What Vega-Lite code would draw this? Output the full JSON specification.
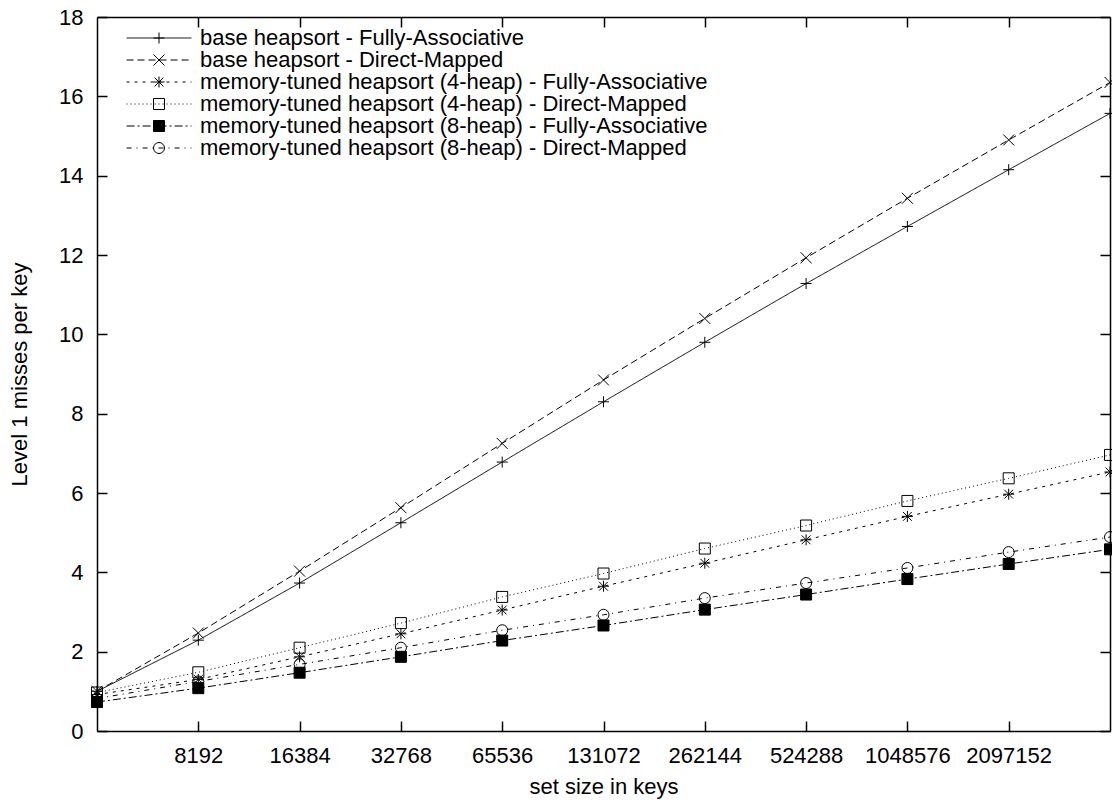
{
  "$schema": "https://vega.github.io/schema/vega-lite/v6.json",
  "width": 1013,
  "height": 714,
  "autosize": "none",
  "padding": {"left": 97, "top": 17, "right": 2, "bottom": 69},
  "background": "white",
  "config": {
    "view": {"stroke": null},
    "font": "Liberation Sans",
    "axis": {"grid": false, "labelFont": "Liberation Sans", "labelFontSize": 22, "labelColor": "black", "titleFont": "Liberation Sans", "titleFontSize": 22, "titleFontWeight": "normal", "titleColor": "black", "domainColor": "black", "domainWidth": 1.5, "tickColor": "black", "tickWidth": 1.5, "tickSize": -10}
  },
  "data": {"values": [
    {"n": 4096, "series": "base heapsort - Fully-Associative", "v": 1.0},
    {"n": 8192, "series": "base heapsort - Fully-Associative", "v": 2.29},
    {"n": 16384, "series": "base heapsort - Fully-Associative", "v": 3.73},
    {"n": 32768, "series": "base heapsort - Fully-Associative", "v": 5.25},
    {"n": 65536, "series": "base heapsort - Fully-Associative", "v": 6.78},
    {"n": 131072, "series": "base heapsort - Fully-Associative", "v": 8.3},
    {"n": 262144, "series": "base heapsort - Fully-Associative", "v": 9.8},
    {"n": 524288, "series": "base heapsort - Fully-Associative", "v": 11.28},
    {"n": 1048576, "series": "base heapsort - Fully-Associative", "v": 12.72},
    {"n": 2097152, "series": "base heapsort - Fully-Associative", "v": 14.15},
    {"n": 4194304, "series": "base heapsort - Fully-Associative", "v": 15.57},
    {"n": 4096, "series": "base heapsort - Direct-Mapped", "v": 1.0},
    {"n": 8192, "series": "base heapsort - Direct-Mapped", "v": 2.47},
    {"n": 16384, "series": "base heapsort - Direct-Mapped", "v": 4.03},
    {"n": 32768, "series": "base heapsort - Direct-Mapped", "v": 5.63},
    {"n": 65536, "series": "base heapsort - Direct-Mapped", "v": 7.25},
    {"n": 131072, "series": "base heapsort - Direct-Mapped", "v": 8.85},
    {"n": 262144, "series": "base heapsort - Direct-Mapped", "v": 10.4},
    {"n": 524288, "series": "base heapsort - Direct-Mapped", "v": 11.93},
    {"n": 1048576, "series": "base heapsort - Direct-Mapped", "v": 13.43},
    {"n": 2097152, "series": "base heapsort - Direct-Mapped", "v": 14.9},
    {"n": 4194304, "series": "base heapsort - Direct-Mapped", "v": 16.35},
    {"n": 4096, "series": "memory-tuned heapsort (4-heap) - Fully-Associative", "v": 0.92},
    {"n": 8192, "series": "memory-tuned heapsort (4-heap) - Fully-Associative", "v": 1.3},
    {"n": 16384, "series": "memory-tuned heapsort (4-heap) - Fully-Associative", "v": 1.87},
    {"n": 32768, "series": "memory-tuned heapsort (4-heap) - Fully-Associative", "v": 2.45},
    {"n": 65536, "series": "memory-tuned heapsort (4-heap) - Fully-Associative", "v": 3.05},
    {"n": 131072, "series": "memory-tuned heapsort (4-heap) - Fully-Associative", "v": 3.65},
    {"n": 262144, "series": "memory-tuned heapsort (4-heap) - Fully-Associative", "v": 4.23},
    {"n": 524288, "series": "memory-tuned heapsort (4-heap) - Fully-Associative", "v": 4.82},
    {"n": 1048576, "series": "memory-tuned heapsort (4-heap) - Fully-Associative", "v": 5.41},
    {"n": 2097152, "series": "memory-tuned heapsort (4-heap) - Fully-Associative", "v": 5.97},
    {"n": 4194304, "series": "memory-tuned heapsort (4-heap) - Fully-Associative", "v": 6.53},
    {"n": 4096, "series": "memory-tuned heapsort (4-heap) - Direct-Mapped", "v": 0.97},
    {"n": 8192, "series": "memory-tuned heapsort (4-heap) - Direct-Mapped", "v": 1.48},
    {"n": 16384, "series": "memory-tuned heapsort (4-heap) - Direct-Mapped", "v": 2.1},
    {"n": 32768, "series": "memory-tuned heapsort (4-heap) - Direct-Mapped", "v": 2.72},
    {"n": 65536, "series": "memory-tuned heapsort (4-heap) - Direct-Mapped", "v": 3.38},
    {"n": 131072, "series": "memory-tuned heapsort (4-heap) - Direct-Mapped", "v": 3.97},
    {"n": 262144, "series": "memory-tuned heapsort (4-heap) - Direct-Mapped", "v": 4.6},
    {"n": 524288, "series": "memory-tuned heapsort (4-heap) - Direct-Mapped", "v": 5.18},
    {"n": 1048576, "series": "memory-tuned heapsort (4-heap) - Direct-Mapped", "v": 5.8},
    {"n": 2097152, "series": "memory-tuned heapsort (4-heap) - Direct-Mapped", "v": 6.37},
    {"n": 4194304, "series": "memory-tuned heapsort (4-heap) - Direct-Mapped", "v": 6.96},
    {"n": 4096, "series": "memory-tuned heapsort (8-heap) - Fully-Associative", "v": 0.73},
    {"n": 8192, "series": "memory-tuned heapsort (8-heap) - Fully-Associative", "v": 1.08},
    {"n": 16384, "series": "memory-tuned heapsort (8-heap) - Fully-Associative", "v": 1.47},
    {"n": 32768, "series": "memory-tuned heapsort (8-heap) - Fully-Associative", "v": 1.87},
    {"n": 65536, "series": "memory-tuned heapsort (8-heap) - Fully-Associative", "v": 2.28},
    {"n": 131072, "series": "memory-tuned heapsort (8-heap) - Fully-Associative", "v": 2.66},
    {"n": 262144, "series": "memory-tuned heapsort (8-heap) - Fully-Associative", "v": 3.06},
    {"n": 524288, "series": "memory-tuned heapsort (8-heap) - Fully-Associative", "v": 3.44},
    {"n": 1048576, "series": "memory-tuned heapsort (8-heap) - Fully-Associative", "v": 3.83},
    {"n": 2097152, "series": "memory-tuned heapsort (8-heap) - Fully-Associative", "v": 4.21},
    {"n": 4194304, "series": "memory-tuned heapsort (8-heap) - Fully-Associative", "v": 4.58},
    {"n": 4096, "series": "memory-tuned heapsort (8-heap) - Direct-Mapped", "v": 0.82},
    {"n": 8192, "series": "memory-tuned heapsort (8-heap) - Direct-Mapped", "v": 1.25},
    {"n": 16384, "series": "memory-tuned heapsort (8-heap) - Direct-Mapped", "v": 1.68},
    {"n": 32768, "series": "memory-tuned heapsort (8-heap) - Direct-Mapped", "v": 2.1},
    {"n": 65536, "series": "memory-tuned heapsort (8-heap) - Direct-Mapped", "v": 2.54},
    {"n": 131072, "series": "memory-tuned heapsort (8-heap) - Direct-Mapped", "v": 2.93},
    {"n": 262144, "series": "memory-tuned heapsort (8-heap) - Direct-Mapped", "v": 3.35},
    {"n": 524288, "series": "memory-tuned heapsort (8-heap) - Direct-Mapped", "v": 3.73},
    {"n": 1048576, "series": "memory-tuned heapsort (8-heap) - Direct-Mapped", "v": 4.11},
    {"n": 2097152, "series": "memory-tuned heapsort (8-heap) - Direct-Mapped", "v": 4.51},
    {"n": 4194304, "series": "memory-tuned heapsort (8-heap) - Direct-Mapped", "v": 4.89}
  ]},
  "layer": [
    {
      "mark": {"type": "line", "color": "black", "strokeWidth": 1},
      "encoding": {
        "x": {"field": "n", "type": "quantitative",
          "scale": {"type": "log", "base": 2, "domain": [4096, 4194304], "nice": false},
          "axis": {"orient": "bottom", "values": [8192, 16384, 32768, 65536, 131072, 262144, 524288, 1048576, 2097152], "format": "d", "labelPadding": 24, "title": "set size in keys", "titlePadding": 10, "labelFlush": false, "labelOverlap": false}},
        "y": {"field": "v", "type": "quantitative",
          "scale": {"domain": [0, 18], "nice": false},
          "axis": {"orient": "left", "values": [0, 2, 4, 6, 8, 10, 12, 14, 16, 18], "labelPadding": 24, "title": "Level 1 misses per key", "titlePadding": 27, "labelFlush": false}},
        "strokeDash": {"field": "series", "type": "nominal",
          "scale": {"domain": ["base heapsort - Fully-Associative", "base heapsort - Direct-Mapped", "memory-tuned heapsort (4-heap) - Fully-Associative", "memory-tuned heapsort (4-heap) - Direct-Mapped", "memory-tuned heapsort (8-heap) - Fully-Associative", "memory-tuned heapsort (8-heap) - Direct-Mapped"],
            "range": [[1, 0], [7, 4], [3, 5], [1, 3], [8, 3, 2, 3], [5, 5, 1, 5]]},
          "legend": {"orient": "none", "legendX": 51, "legendY": 10, "title": null, "padding": 0, "symbolType": "M-5.9,0H5.9", "symbolSize": 121, "symbolStrokeColor": "black", "symbolStrokeWidth": 1, "symbolFillColor": "transparent", "labelFont": "Liberation Sans", "labelFontSize": 22, "labelColor": "black", "labelOffset": 30, "rowPadding": 0, "labelLimit": 900}}
      }
    },
    {
      "mark": {"type": "point", "stroke": "black", "strokeWidth": 1, "opacity": 1, "size": 121},
      "encoding": {
        "x": {"field": "n", "type": "quantitative",
          "axis": {"orient": "top", "values": [8192, 16384, 32768, 65536, 131072, 262144, 524288, 1048576, 2097152], "labels": false, "title": null}},
        "y": {"field": "v", "type": "quantitative",
          "axis": {"orient": "right", "values": [0, 2, 4, 6, 8, 10, 12, 14, 16, 18], "labels": false, "title": null}},
        "shape": {"field": "series", "type": "nominal",
          "scale": {"domain": ["base heapsort - Fully-Associative", "base heapsort - Direct-Mapped", "memory-tuned heapsort (4-heap) - Fully-Associative", "memory-tuned heapsort (4-heap) - Direct-Mapped", "memory-tuned heapsort (8-heap) - Fully-Associative", "memory-tuned heapsort (8-heap) - Direct-Mapped", "unused"],
            "range": ["M-1,0H1M0,-1V1", "M-1,-1L1,1M-1,1L1,-1", "M-1,0H1M0,-1V1M-0.8,-0.8L0.8,0.8M-0.8,0.8L0.8,-0.8", "M-1,-1H1V1H-1Z", "M-1,-1H1V1H-1Z", "M1,0A1,1,0,1,1,-1,0A1,1,0,1,1,1,0Z", "circle"]},
          "legend": {"orient": "none", "legendX": 51, "legendY": 10, "title": null, "padding": 0, "values": ["base heapsort - Fully-Associative", "base heapsort - Direct-Mapped", "memory-tuned heapsort (4-heap) - Fully-Associative", "memory-tuned heapsort (4-heap) - Direct-Mapped", "memory-tuned heapsort (8-heap) - Fully-Associative", "memory-tuned heapsort (8-heap) - Direct-Mapped"], "symbolSize": 121, "symbolStrokeColor": "black", "symbolStrokeWidth": 1, "symbolOpacity": 1, "labelFont": "Liberation Sans", "labelFontSize": 22, "labelColor": "black", "labelExpr": "''", "labelOffset": 30, "rowPadding": 0, "labelLimit": 900,
            "encode": {"symbols": {"update": {"stroke": {"value": "black"}, "strokeWidth": {"value": 1}, "opacity": {"value": 1}}}}}},
        "fill": {"field": "series", "type": "nominal",
          "scale": {"domain": ["base heapsort - Fully-Associative", "base heapsort - Direct-Mapped", "memory-tuned heapsort (4-heap) - Fully-Associative", "memory-tuned heapsort (4-heap) - Direct-Mapped", "memory-tuned heapsort (8-heap) - Fully-Associative", "memory-tuned heapsort (8-heap) - Direct-Mapped", "unused"],
            "range": ["transparent", "transparent", "transparent", "transparent", "black", "transparent", "transparent"]},
          "legend": {"orient": "none", "legendX": 51, "legendY": 10, "title": null, "padding": 0, "values": ["base heapsort - Fully-Associative", "base heapsort - Direct-Mapped", "memory-tuned heapsort (4-heap) - Fully-Associative", "memory-tuned heapsort (4-heap) - Direct-Mapped", "memory-tuned heapsort (8-heap) - Fully-Associative", "memory-tuned heapsort (8-heap) - Direct-Mapped"], "symbolSize": 121, "symbolStrokeColor": "black", "symbolStrokeWidth": 1, "symbolOpacity": 1, "labelFont": "Liberation Sans", "labelFontSize": 22, "labelColor": "black", "labelExpr": "''", "labelOffset": 30, "rowPadding": 0, "labelLimit": 900,
            "encode": {"symbols": {"update": {"stroke": {"value": "black"}, "strokeWidth": {"value": 1}, "opacity": {"value": 1}}}}}}
      }
    }
  ]
}
